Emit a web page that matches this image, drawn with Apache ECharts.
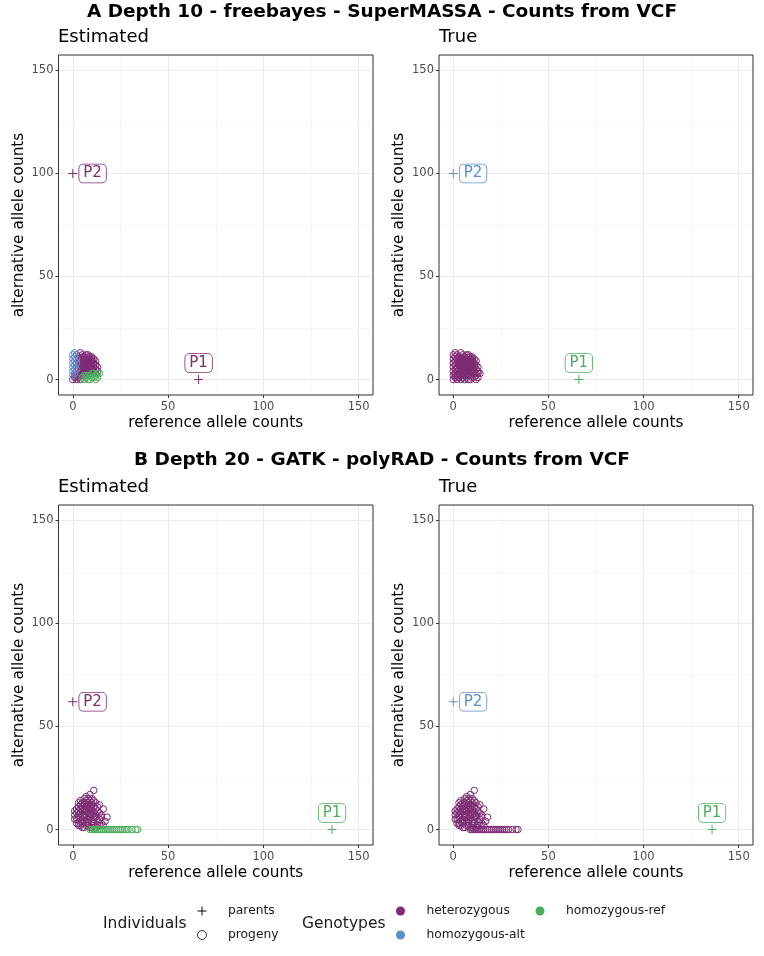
<!DOCTYPE html>
<html><head><meta charset="utf-8">
<script src="https://cdn.jsdelivr.net/npm/echarts@6/dist/echarts.min.js"></script>
<style>html,body{margin:0;padding:0;background:#fff}#c{width:764px;height:956px}</style>
</head><body><div id="c"></div><script>
// ---------- data ----------
const panelTitles = ['A Depth 10 - freebayes - SuperMASSA - Counts from VCF', 'B Depth 20 - GATK - polyRAD - Counts from VCF'];
const subTitles = ['Estimated', 'True'];
const axisTickValues = [0, 50, 100, 150];
const genotypeNames = ['heterozygous', 'homozygous-alt', 'homozygous-ref'];
const individualNames = ['parents', 'progeny'];
const parentNames = ['P1', 'P2'];

// panel A parents: [ref, alt]
const parentsA_ref = [66, 0];
const parentsA_alt = [0, 100];
const parentsA_est = ['heterozygous', 'heterozygous'];
const parentsA_true = ['homozygous-ref', 'homozygous-alt'];
// panel B parents
const parentsB_ref = [136, 0];
const parentsB_alt = [0, 62];
const parentsB_est = ['homozygous-ref', 'heterozygous'];
const parentsB_true = ['homozygous-ref', 'homozygous-alt'];

// panel A progeny [ref, alt], grouped by estimated genotype (true: all heterozygous)
const progenyA_het = [
 [2,12],[3,11],[4,13],[5,12],[6,11],[7,12],[8,11],[9,10],[10,11],
 [3,9],[4,10],[5,10],[6,9],[7,10],[8,9],[9,8],[10,9],[11,8],[12,7],
 [3,7],[4,8],[5,8],[6,8],[7,7],[8,7],[9,6],[10,7],[11,6],[12,5],[13,6],
 [2,6],[3,5],[4,6],[5,6],[6,5],[7,5],[8,5],[9,4],[10,5],[11,4],
 [2,4],[3,3],[4,4],[5,4],[6,3],[7,3],[8,4],[3,2],[4,2],[5,2],
 [2,2],[1,1],[2,1],[3,1],[4,0],[2,0],[0,0],[1,2],[6,10],[5,11],
 [8,12],[9,11],[11,10],[12,9],[7,8],[6,6],[5,5],[4,5],[13,4],[12,3],
 [6,7],[7,6],[8,6],[9,7],[10,8],[5,7],[4,7],[3,8],[7,9],[8,8],[9,9],[6,4],[5,3],[7,4],[10,6],[11,7],[4,9],[3,10],[9,5],[10,10]
];
const progenyA_alt = [[0,12],[1,13],[0,10],[1,9],[0,8],[2,10],[1,7],[0,6],[1,5],[0,4],[2,8],[1,3],[0,2],[2,5],[1,11]];
const progenyA_ref = [[5,1],[6,0],[7,1],[8,2],[9,0],[9,2],[10,1],[11,3],[12,2],[13,3],[8,0],[7,2],[10,3],[11,1],[6,2],[14,3],[12,0],[13,1]];

// panel B progeny
const progenyB_het = [
 [7,16],[9,17],[10,15],[11,19],[8,15],
 [4,14],[5,13],[6,15],[7,14],[8,13],[9,14],[10,13],[11,14],[3,13],[12,13],[6,13],
 [3,11],[4,12],[5,11],[6,12],[7,11],[8,12],[9,11],[10,12],[11,11],[12,10],[13,11],[2,10],[16,10],[14,12],[5,10],[7,10],[9,10],
 [2,8],[3,9],[4,8],[5,9],[6,7],[7,9],[8,8],[9,7],[10,9],[11,8],[12,7],[13,9],[14,8],[15,7],[1,7],[1,9],[6,9],[8,10],[10,7],[4,10],
 [2,5],[3,6],[4,4],[5,5],[6,6],[7,4],[8,5],[9,6],[10,4],[11,5],[12,6],[13,4],[14,5],[18,6],[15,6],[1,5],[5,7],[7,6],[9,8],[3,7],[11,6],
 [3,3],[4,2],[5,3],[6,1],[7,2],[8,3],[9,1],[10,2],[11,3],[12,1],[13,2],[17,4],[15,3],[14,2],[5,1],[3,2],[6,4],[8,2],[10,1],[2,3],[16,2]
];
const progenyB_ref = [[9,0],[10,0],[11,0],[12,0],[13,0],[14,0],[15,0],[16,0],[17,0],[18,0],[19,0],[20,0],[21,0],[22,0],[23,0],[24,0],[25,0],[26,0],[27,0],[28,0],[29,0],[31,0],[33,0],[34,0]];

// ---------- style ----------
const FONT = 'DejaVu Sans';
const COLORS = {'heterozygous': '#7e2a74', 'homozygous-alt': '#5b8ecb', 'homozygous-ref': '#4cae5d'};
const PLUS = 'path://M4.45,0H5.55V10H4.45Z M0,4.45H10V5.55H0Z';

const gridsPos = [
  {left: 58.5, top: 55, width: 314.5, height: 340},
  {left: 439, top: 55, width: 314, height: 340},
  {left: 58.5, top: 505, width: 314.5, height: 340},
  {left: 439, top: 505, width: 314, height: 340}
];

const panels = [
  {prog: {'heterozygous': progenyA_het, 'homozygous-alt': progenyA_alt, 'homozygous-ref': progenyA_ref},
   pr: parentsA_ref, pa: parentsA_alt, pg: parentsA_est},
  {prog: {'heterozygous': progenyA_het.concat(progenyA_alt, progenyA_ref)},
   pr: parentsA_ref, pa: parentsA_alt, pg: parentsA_true},
  {prog: {'heterozygous': progenyB_het, 'homozygous-ref': progenyB_ref},
   pr: parentsB_ref, pa: parentsB_alt, pg: parentsB_est},
  {prog: {'heterozygous': progenyB_het.concat(progenyB_ref)},
   pr: parentsB_ref, pa: parentsB_alt, pg: parentsB_true}
];

const grid = gridsPos.map(g => Object.assign({show: true, borderColor: '#333', borderWidth: 1, backgroundColor: 'rgba(0,0,0,0)', z: 2}, g));

const xAxis = [], yAxis = [];
gridsPos.forEach((g, i) => {
  xAxis.push({
    gridIndex: i, type: 'value', position: 'bottom', min: -7.5, max: 157.5, minInterval: 50, maxInterval: 50, splitNumber: 3, z: 1,
    axisLine: {show: false, onZero: false},
    axisTick: {show: true, length: 3, lineStyle: {color: '#333'}, customValues: axisTickValues},
    axisLabel: {customValues: axisTickValues, color: '#4d4d4d', fontSize: 11.5, margin: 6, fontFamily: FONT},
    splitLine: {lineStyle: {color: '#ebebeb', width: 1}},
    name: 'reference allele counts', nameLocation: 'middle', nameGap: 21,
    nameTextStyle: {fontSize: 15.3, color: '#000', fontFamily: FONT}
  });
  yAxis.push({
    gridIndex: i, type: 'value', position: 'left', min: -7.5, max: 157.5, minInterval: 50, maxInterval: 50, splitNumber: 3, z: 1,
    axisLine: {show: false, onZero: false},
    axisTick: {show: true, length: 3, lineStyle: {color: '#333'}, customValues: axisTickValues},
    axisLabel: {customValues: axisTickValues, color: '#4d4d4d', fontSize: 11.5, margin: 5, fontFamily: FONT},
    splitLine: {lineStyle: {color: '#ebebeb', width: 1}},
    name: 'alternative allele counts', nameLocation: 'middle', nameGap: 32,
    nameTextStyle: {fontSize: 15.3, color: '#000', fontFamily: FONT}
  });
});
// minor grid axes
gridsPos.forEach((g, i) => {
  const minor = {
    gridIndex: i, type: 'value', min: -7.5, max: 157.5, minInterval: 25, maxInterval: 25, splitNumber: 6, z: 0,
    axisLine: {show: false, onZero: false}, axisTick: {show: false}, axisLabel: {show: false},
    splitLine: {lineStyle: {color: '#f3f3f3', width: 0.6}}
  };
  xAxis.push(Object.assign({position: 'top'}, minor));
  yAxis.push(Object.assign({position: 'right'}, minor));
});

const series = [];
panels.forEach((p, i) => {
  genotypeNames.forEach(gname => {
    const pts = p.prog[gname];
    if (!pts) return;
    series.push({
      type: 'scatter', name: gname, xAxisIndex: i, yAxisIndex: i, z: 3,
      symbol: 'circle', symbolSize: 6.5, silent: true,
      itemStyle: {color: 'rgba(0,0,0,0)', borderColor: COLORS[gname], borderWidth: 1, opacity: 1},
      data: pts.map(d => [d[0], d[1]])
    });
  });
  series.push({
    type: 'scatter', name: 'parents', xAxisIndex: i, yAxisIndex: i, z: 4,
    symbol: PLUS, symbolSize: 9, silent: true,
    itemStyle: {opacity: 1},
    data: parentNames.map((n, k) => {
      const col = COLORS[p.pg[k]];
      return {
        name: n, value: [p.pr[k], p.pa[k]],
        itemStyle: {color: col, opacity: 1},
        label: {
          show: true, formatter: '{b}', position: n === 'P2' ? 'right' : 'top', distance: n === 'P2' ? 2 : 3,
          color: col, fontSize: 15, fontFamily: FONT, backgroundColor: '#fff',
          borderColor: col, borderWidth: 0.8, borderRadius: 4, padding: [2, 4, 1, 4]
        }
      };
    })
  });
});
// empty series only for the legend entry
series.push({type: 'scatter', name: 'progeny', xAxisIndex: 0, yAxisIndex: 0, data: []});

const tStyle = (size, bold, color) => ({fontSize: size, fontWeight: bold ? 'bold' : 'normal', color: color || '#000', fontFamily: FONT});
const title = [
  {text: panelTitles[0], left: 'center', top: 3, padding: 0, textStyle: tStyle(18.5, true)},
  {text: subTitles[0], left: 58, top: 28, padding: 0, textStyle: tStyle(18)},
  {text: subTitles[1], left: 439, top: 28, padding: 0, textStyle: tStyle(18)},
  {text: panelTitles[1], left: 'center', top: 451, padding: 0, textStyle: tStyle(18.5, true)},
  {text: subTitles[0], left: 58, top: 478, padding: 0, textStyle: tStyle(18)},
  {text: subTitles[1], left: 439, top: 478, padding: 0, textStyle: tStyle(18)},
  {text: 'Individuals', left: 103, top: 916, padding: 0, textStyle: tStyle(15.5, false, '#1a1a1a')},
  {text: 'Genotypes', left: 302, top: 916, padding: 0, textStyle: tStyle(15.5, false, '#1a1a1a')}
];

const legendCommon = {orient: 'vertical', itemWidth: 42, itemHeight: 9, itemGap: 12, selectedMode: false, padding: 0,
  textStyle: {fontSize: 12.3, color: '#1a1a1a', fontFamily: FONT}};
const legend = [
  Object.assign({}, legendCommon, {left: 197, top: 905, data: [
    {name: individualNames[0], icon: PLUS, itemStyle: {color: '#000', borderWidth: 0}},
    {name: individualNames[1], icon: 'circle', itemStyle: {color: 'rgba(0,0,0,0)', borderColor: '#000', borderWidth: 1}}
  ]}),
  Object.assign({}, legendCommon, {left: 396, top: 905, data: genotypeNames.slice(0, 2).map(n => ({name: n, icon: 'circle', itemStyle: {color: COLORS[n], borderWidth: 0}}))}),
  Object.assign({}, legendCommon, {left: 535.5, top: 905, data: genotypeNames.slice(2).map(n => ({name: n, icon: 'circle', itemStyle: {color: COLORS[n], borderWidth: 0}}))})
];

const chart = echarts.init(document.getElementById('c'), null, {renderer: 'canvas'});
chart.setOption({animation: false, backgroundColor: '#fff', title, legend, grid, xAxis, yAxis, series});
</script></body></html>
